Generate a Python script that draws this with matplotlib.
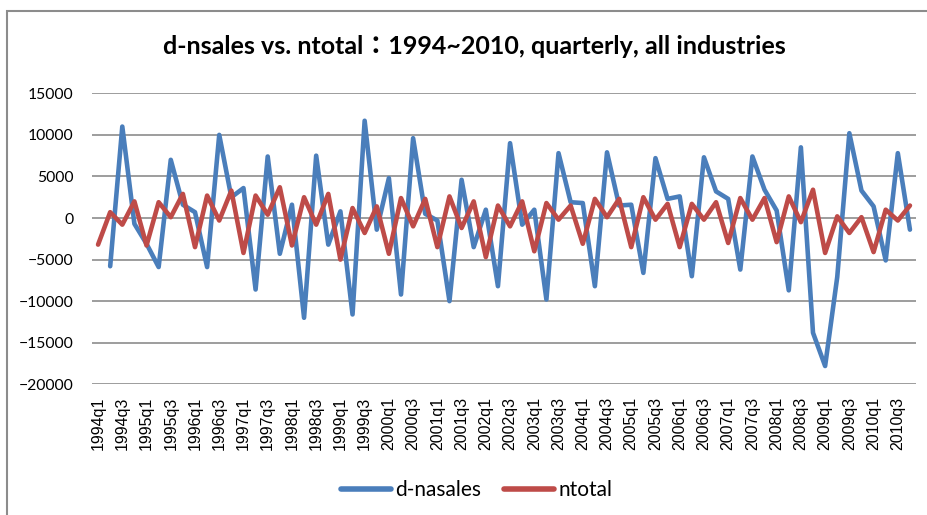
import matplotlib.pyplot as plt
import numpy as np
from matplotlib.patches import Rectangle

# quarters 1994q1 .. 2010q4
quarters = [f"{y}q{q}" for y in range(1994, 2011) for q in range(1, 5)]

d_nasales = [
    np.nan, -5800, 11000, -700, -3100, -5900, 7000, 1600,
    700, -5900, 10000, 2500, 3600, -8600, 7400, -4300,
    1600, -12000, 7500, -3200, 800, -11600, 11700, -1400,
    4800, -9200, 9600, 500, -300, -10000, 4600, -3500,
    1000, -8200, 9000, -800, 1000, -9800, 7800, 1900,
    1800, -8200, 7900, 1500, 1600, -6600, 7200, 2300,
    2600, -7000, 7300, 3200, 2300, -6200, 7400, 3400,
    900, -8700, 8500, -13800, -17800, -7100, 10200, 3300,
    1400, -5100, 7800, -1400,
]

ntotal = [
    -3200, 700, -800, 2000, -3300, 1900, 100, 2900,
    -3500, 2700, -300, 3300, -4200, 2700, 400, 3700,
    -3300, 2500, -800, 2900, -5000, 1200, -1800, 1400,
    -4300, 2400, -1000, 2300, -3500, 2600, -1200, 2000,
    -4700, 1500, -1000, 2000, -4000, 1800, -200, 1500,
    -3100, 2300, 100, 2300, -3500, 2500, -200, 1700,
    -3500, 1700, -200, 1900, -3000, 2400, -200, 2400,
    -2900, 2600, -500, 3400, -4200, 200, -1800, 100,
    -4100, 1000, -300, 1500,
]

BLUE = "#4A7EBB"
RED = "#BE4B48"
GRID = "#8C8C8C"

fig = plt.figure(figsize=(9.28, 5.15), dpi=100)
ax = fig.add_axes([92 / 928, 1 - 384.3 / 515, 824 / 928, 291 / 515])

x = np.arange(len(quarters))
ax.plot(x, d_nasales, color=BLUE, linewidth=3.3, label="d-nasales",
        solid_joinstyle="round", solid_capstyle="round")
ax.plot(x, ntotal, color=RED, linewidth=3.3, label="ntotal",
        solid_joinstyle="round", solid_capstyle="round")

ax.set_xlim(-0.5, len(quarters) - 0.5)
ax.set_ylim(-20000, 15000)
ax.set_yticks(np.arange(-20000, 15001, 5000))
ax.grid(axis="y", color=GRID, linewidth=1.2)
ax.set_axisbelow(True)
for s in ax.spines.values():
    s.set_visible(False)

ax.set_xticks(x[::2])
ax.set_xticklabels(quarters[::2], rotation=90, fontsize=11.5,
                   family="Liberation Sans")
ax.tick_params(axis="x", length=0, pad=9)
ax.tick_params(axis="y", length=0, pad=13.5)
for t in ax.get_yticklabels():
    t.set_fontfamily("Lato")
    t.set_fontsize(11.3)

fig.text(474 / 928, 1 - 47 / 515,
         "d-nsales vs. ntotal：1994~2010, quarterly, all industries",
         ha="center", va="center", fontsize=18, fontweight="bold",
         family=["Lato", "Noto Sans CJK TC"])

leg = fig.legend(loc="center", bbox_to_anchor=(477 / 928, 1 - 490 / 515),
                 ncol=2, frameon=False, handlelength=2.4, handletextpad=0.2,
                 columnspacing=1.1, prop={"family": "Lato", "size": 15})
for h in leg.get_lines():
    h.set_linewidth(4)
    h.set_solid_capstyle("round")

# chart frame (extends past right and bottom edge)
fig.patches.append(Rectangle((7 / 928, -0.1), 1.2, 1 - 11 / 515 + 0.1,
                             transform=fig.transFigure, fill=False,
                             edgecolor=GRID, linewidth=1.5))

fig.savefig("out.png", dpi=100)
